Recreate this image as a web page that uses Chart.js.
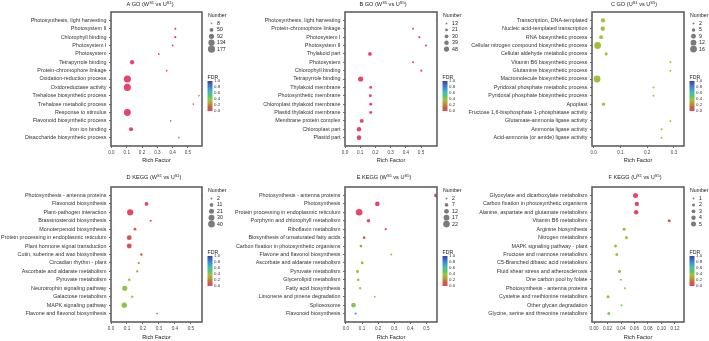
<!DOCTYPE html>
<html>
<head>
<meta charset="utf-8">
<script src="https://cdn.jsdelivr.net/npm/chart.js@4.4.1/dist/chart.umd.min.js"></script>
<style>
  html, body { margin: 0; padding: 0; background: #fff; }
  body { width: 709px; height: 341px; position: relative; overflow: hidden; }
  canvas { position: absolute; }
</style>
</head>
<body>
<script>
// ---- data ----
const aLabels = ['Photosynthesis, light harvesting', 'Photosystem II', 'Chlorophyll binding', 'Photosystem I',
  'Photosystem', 'Tetrapyrrole binding', 'Protein-chromophore linkage', 'Oxidation-reduction process',
  'Oxidoreductase activity', 'Trehalose biosynthetic process', 'Trehalose metabolic process',
  'Response to stimulus', 'Flavonoid biosynthetic process', 'Iron ion binding', 'Disaccharide biosynthetic process'];
const aRich = [0.60, 0.417, 0.417, 0.40, 0.309, 0.135, 0.361, 0.104, 0.104, 0.572, 0.535, 0.104, 0.387, 0.128, 0.441];
const aNumber = [20, 15, 15, 12, 12, 62, 10, 172, 168, 8, 8, 160, 8, 55, 8];
const aFdr = [0.02, 0, 0, 0, 0.01, 0, 0.02, 0, 0, 0.05, 0.05, 0, 0.12, 0.01, 0.1];
const aNumberKeys = [8, 50, 92, 134, 177];
const aTicks = [0, 0.1, 0.2, 0.3, 0.4, 0.5];

const bLabels = ['Photosynthesis, light harvesting', 'Protein-chromophore linkage', 'Photosystem I', 'Photosystem II',
  'Thylakoid part', 'Photosystem', 'Chlorophyll binding', 'Tetrapyrrole binding', 'Thylakoid membrane',
  'Photosynthetic membrane', 'Chloroplast thylakoid membrane', 'Plastid thylakoid membrane',
  'Membrane protein complex', 'Chloroplast part', 'Plastid part'];
const bRich = [0.607, 0.447, 0.489, 0.533, 0.164, 0.447, 0.502, 0.103, 0.169, 0.167, 0.169, 0.169, 0.11, 0.092, 0.092];
const bNumber = [14, 14, 15, 16, 30, 15, 15, 48, 22, 22, 22, 22, 32, 40, 40];
const bFdr = [0, 0, 0, 0, 0.01, 0, 0, 0.02, 0.01, 0.01, 0.01, 0.01, 0.01, 0.01, 0.01];
const bNumberKeys = [13, 21, 30, 39, 48];
const bTicks = [0, 0.1, 0.2, 0.3, 0.4, 0.5];

const cLabels = ['Transcription, DNA-templated', 'Nucleic acid-templated transcription', 'RNA biosynthetic process',
  'Cellular nitrogen compound biosynthetic process', 'Cellular aldehyde metabolic process',
  'Vitamin B6 biosynthetic process', 'Glutamine biosynthetic process', 'Macromolecule biosynthetic process',
  'Pyridoxal phosphate metabolic process', 'Pyridoxal phosphate biosynthetic process', 'Apoplast',
  'Fructose 1,6-bisphosphate 1-phosphatase activity', 'Glutamate-ammonia ligase activity',
  'Ammonia ligase activity', 'Acid-ammonia (or amide) ligase activity'];
const cRich = [0.035, 0.034, 0.028, 0.015, 0.047, 0.287, 0.287, 0.013, 0.224, 0.224, 0.037, 0.342, 0.287, 0.254, 0.254];
const cNumber = [7, 7, 6, 16, 4, 2, 2, 16, 2, 2, 4, 2, 2, 2, 2];
const cFdr = [0.36, 0.36, 0.36, 0.36, 0.36, 0.38, 0.38, 0.36, 0.38, 0.38, 0.36, 0.4, 0.38, 0.38, 0.38];
const cNumberKeys = [2, 5, 9, 12, 16];
const cTicks = [0, 0.1, 0.2, 0.3];

const dLabels = ['Photosynthesis - antenna proteins', 'Flavonoid biosynthesis', 'Plant-pathogen interaction',
  'Brassinosteroid biosynthesis', 'Monoterpenoid biosynthesis', 'Protein processing in endoplasmic reticulum',
  'Plant hormone signal transduction', 'Cutin, suberine and wax biosynthesis', 'Circadian rhythm - plant',
  'Ascorbate and aldarate metabolism', 'Pyruvate metabolism', 'Neurotrophin signaling pathway',
  'Galactose metabolism', 'MAPK signaling pathway', 'Flavone and flavonol biosynthesis'];
const dRich = [0.575, 0.222, 0.12, 0.248, 0.15, 0.114, 0.114, 0.19, 0.173, 0.164, 0.114, 0.086, 0.133, 0.083, 0.288];
const dNumber = [10, 11, 34, 3, 6, 20, 20, 4, 3, 3, 4, 22, 4, 24, 2];
const dFdr = [0, 0.02, 0.03, 0.12, 0.1, 0.06, 0.06, 0.1, 0.2, 0.25, 0.33, 0.4, 0.4, 0.42, 0.75];
const dNumberKeys = [2, 11, 21, 30, 40];
const dTicks = [0, 0.1, 0.2, 0.3, 0.4, 0.5];

const eLabels = ['Photosynthesis - antenna proteins', 'Photosynthesis', 'Protein processing in endoplasmic reticulum',
  'Porphyrin and chlorophyll metabolism', 'Riboflavin metabolism', 'Biosynthesis of unsaturated fatty acids',
  'Carbon fixation in photosynthetic organisms', 'Flavone and flavonol biosynthesis',
  'Ascorbate and aldarate metabolism', 'Pyruvate metabolism', 'Glycerolipid metabolism',
  'Fatty acid biosynthesis', 'Limonene and pinene degradation', 'Spliceosome', 'Flavonoid biosynthesis'];
const eRich = [0.56, 0.195, 0.082, 0.14, 0.247, 0.113, 0.093, 0.282, 0.101, 0.072, 0.076, 0.088, 0.179, 0.047, 0.06];
const eNumber = [8, 11, 22, 7, 3, 4, 4, 2, 4, 5, 4, 3, 2, 11, 3];
const eFdr = [0, 0, 0.01, 0.02, 0.05, 0.1, 0.25, 0.28, 0.3, 0.38, 0.38, 0.4, 0.42, 0.42, 0.7];
const eNumberKeys = [2, 7, 12, 17, 22];
const eTicks = [0, 0.1, 0.2, 0.3, 0.4, 0.5];

const fLabels = ['Glyoxylate and dicarboxylate metabolism', 'Carbon fixation in photosynthetic organisms',
  'Alanine, aspartate and glutamate metabolism', 'Vitamin B6 metabolism', 'Arginine biosynthesis',
  'Nitrogen metabolism', 'MAPK signaling pathway - plant', 'Fructose and mannose metabolism',
  'C5-Branched dibasic acid metabolism', 'Fluid shear stress and atherosclerosis', 'One carbon pool by folate',
  'Photosynthesis - antenna proteins', 'Cysteine and methionine metabolism', 'Other glycan degradation',
  'Glycine, serine and threonine metabolism'];
const fRich = [0.0615, 0.0635, 0.0625, 0.1115, 0.0446, 0.048, 0.0318, 0.0338, 0.135, 0.0378, 0.0397, 0.0457, 0.0208, 0.0407, 0.0219];
const fNumber = [5, 4, 4, 2, 2, 2, 2, 2, 1, 2, 1, 1, 2, 1, 2];
const fFdr = [0, 0, 0.01, 0.08, 0.33, 0.38, 0.36, 0.38, 0.4, 0.4, 0.42, 0.4, 0.42, 0.42, 0.42];
const fNumberKeys = [1, 2, 3, 4, 5];
const fTicks = [0, 0.02, 0.04, 0.06, 0.08, 0.10, 0.12];

const fdrKeys = [1.0, 0.8, 0.6, 0.4, 0.2, 0.0];

// ---- layout ----
const FONT = "'Liberation Sans', Arial, sans-serif";
const FDR_STOPS = [
  [0.00, [232, 67, 107]], [0.12, [200, 96, 63]], [0.25, [181, 154, 58]], [0.38, [156, 198, 62]],
  [0.50, [92, 196, 106]], [0.62, [63, 191, 181]], [0.80, [61, 134, 212]], [1.00, [64, 63, 158]],
];

function fdrColor(v) {
  for (let i = 1; i < FDR_STOPS.length; i++) {
    const [p1, c1] = FDR_STOPS[i];
    const [p0, c0] = FDR_STOPS[i - 1];
    if (v <= p1) {
      const t = (v - p0) / (p1 - p0);
      const c = c0.map((x, k) => Math.round(x + (c1[k] - x) * t));
      return `rgb(${c.join(',')})`;
    }
  }
  return 'rgb(64,63,158)';
}

function radius(n, keys, rr) {
  const lo = Math.sqrt(keys[0]), hi = Math.sqrt(keys[keys.length - 1]);
  const t = Math.max(0, (Math.sqrt(n) - lo) / (hi - lo));
  return rr[0] + (rr[1] - rr[0]) * t;
}

const panels = [
  { title: [['A GO (W'], ['S1', 1], [' vs U'], ['S1', 1], [')']], labels: aLabels, rich: aRich, number: aNumber, fdr: aFdr,
    keys: aNumberKeys, ticks: aTicks, dec: 1, xMin: -0.003, xMax: 0.592, rr: [0.8, 3.6],
    box: { x: 0, y: 0, w: 232, h: 170 }, frame: { l: 111, r: 202, t: 12, b: 146 }, titleX: 150, titleY: 4 },
  { title: [['B GO (W'], ['S5', 1], [' vs U'], ['S5', 1], [')']], labels: bLabels, rich: bRich, number: bNumber, fdr: bFdr,
    keys: bNumberKeys, ticks: bTicks, dec: 1, xMin: 0, xMax: 0.605, rr: [0.9, 2.6],
    box: { x: 232, y: 0, w: 234, h: 170 }, frame: { l: 345, r: 437, t: 12, b: 146 }, titleX: 383, titleY: 4 },
  { title: [['C GO (U'], ['S1', 1], [' vs U'], ['S5', 1], [')']], labels: cLabels, rich: cRich, number: cNumber, fdr: cFdr,
    keys: cNumberKeys, ticks: cTicks, dec: 1, xMin: -0.006, xMax: 0.338, rr: [1.0, 3.4],
    box: { x: 466, y: 0, w: 243, h: 170 }, frame: { l: 592, r: 684, t: 12, b: 146 }, titleX: 634, titleY: 4 },
  { title: [['D KEGG (W'], ['S1', 1], [' vs U'], ['S1', 1], [')']], labels: dLabels, rich: dRich, number: dNumber, fdr: dFdr,
    keys: dNumberKeys, ticks: dTicks, dec: 1, xMin: 0, xMax: 0.569, rr: [0.9, 3.4],
    box: { x: 0, y: 170, w: 232, h: 171 }, frame: { l: 111, r: 202, t: 187, b: 322 }, titleX: 154, titleY: 177 },
  { title: [['E KEGG (W'], ['S5', 1], [' vs U'], ['S5', 1], [')']], labels: eLabels, rich: eRich, number: eNumber, fdr: eFdr,
    keys: eNumberKeys, ticks: eTicks, dec: 1, xMin: -0.006, xMax: 0.566, rr: [0.9, 3.3],
    box: { x: 232, y: 170, w: 234, h: 171 }, frame: { l: 345, r: 437, t: 187, b: 322 }, titleX: 384, titleY: 177 },
  { title: [['F KEGG (U'], ['S1', 1], [' vs U'], ['S5', 1], [')']], labels: fLabels, rich: fRich, number: fNumber, fdr: fFdr,
    keys: fNumberKeys, ticks: fTicks, dec: 2, xMin: -0.003, xMax: 0.1334, rr: [1.0, 2.5],
    box: { x: 466, y: 170, w: 243, h: 171 }, frame: { l: 592, r: 684, t: 187, b: 322 }, titleX: 635, titleY: 177 },
];

// frame, title and the two legends
const panelDeco = {
  id: 'panelDeco',
  afterDatasetsDraw(chart, args, o) {
    const { ctx, chartArea: a } = chart;
    ctx.save();
    ctx.strokeStyle = '#606060';
    ctx.lineWidth = 1.6;
    ctx.strokeRect(a.left, a.top, a.right - a.left, a.bottom - a.top);
    ctx.restore();
  },
  afterDraw(chart, args, o) {
    const { ctx, chartArea: a } = chart;
    const p = o.panel;
    ctx.save();
    ctx.textBaseline = 'middle';
    ctx.fillStyle = '#222';

    // title with superscripts
    const big = `5.6px ${FONT}`, small = `4px ${FONT}`;
    let total = 0;
    p.title.forEach(([s, sup]) => { ctx.font = sup ? small : big; total += ctx.measureText(s).width; });
    let x = p.titleX - p.box.x - total / 2;
    const ty = p.titleY - p.box.y;
    ctx.textAlign = 'left';
    p.title.forEach(([s, sup]) => {
      ctx.font = sup ? small : big;
      ctx.fillText(s, x, sup ? ty - 1.6 : ty);
      x += ctx.measureText(s).width;
    });

    // size legend
    ctx.font = `5.2px ${FONT}`;
    ctx.fillText('Number', a.right + 6, a.top + 4);
    p.keys.forEach((k, i) => {
      const y = a.top + 11.5 + i * 6.4;
      ctx.beginPath();
      ctx.arc(a.right + 9.5, y, radius(k, p.keys, p.rr), 0, Math.PI * 2);
      ctx.fillStyle = '#7b7b7b';
      ctx.fill();
      ctx.fillStyle = '#222';
      ctx.fillText(String(k), a.right + 15, y);
    });

    // FDR colour bar
    ctx.fillText('FDR', a.right + 5.5, a.top + 66);
    const y0 = a.top + 69, y1 = a.top + 99, bx = a.right + 5.5;
    const g = ctx.createLinearGradient(0, y1, 0, y0);
    FDR_STOPS.forEach(([s, c]) => g.addColorStop(s, `rgb(${c.join(',')})`));
    ctx.fillStyle = g;
    ctx.fillRect(bx, y0, 5, y1 - y0);
    ctx.font = `4.4px ${FONT}`;
    ctx.fillStyle = '#333';
    fdrKeys.forEach(v => {
      const y = y1 - v * (y1 - y0);
      ctx.fillText(v.toFixed(1), bx + 6.5, y);
    });
    ctx.restore();
  },
};

panels.forEach(p => {
  const cv = document.createElement('canvas');
  cv.width = p.box.w;
  cv.height = p.box.h;
  cv.style.left = p.box.x + 'px';
  cv.style.top = p.box.y + 'px';
  cv.style.width = p.box.w + 'px';
  cv.style.height = p.box.h + 'px';
  document.body.appendChild(cv);

  const f = p.frame;
  const xh = p.box.h - (f.b - p.box.y) - (p.box.y === 0 ? 6 : 0);

  new Chart(cv.getContext('2d'), {
    type: 'bubble',
    data: {
      datasets: [{
        data: p.labels.map((_, i) => ({ x: p.rich[i], y: i, r: radius(p.number[i], p.keys, p.rr) })),
        backgroundColor: p.fdr.map(fdrColor),
        borderWidth: 0,
        hoverRadius: 0,
        clip: 0,
      }],
    },
    plugins: [panelDeco],
    options: {
      responsive: false,
      animation: false,
      events: [],
      layout: {
        padding: { left: 0, top: f.t - p.box.y, right: p.box.x + p.box.w - f.r, bottom: p.box.y + p.box.h - f.b - xh },
      },
      plugins: {
        legend: { display: false },
        tooltip: { enabled: false },
        panelDeco: { panel: p },
      },
      scales: {
        x: {
          type: 'linear',
          min: p.xMin,
          max: p.xMax,
          afterFit: s => { s.height = xh; },
          afterBuildTicks: s => { s.ticks = p.ticks.map(v => ({ value: v })); },
          ticks: {
            autoSkip: false, maxRotation: 0, padding: 1.5, color: '#444',
            font: { size: 4.6, family: FONT },
            callback: v => Number(v).toFixed(p.dec),
          },
          grid: { drawOnChartArea: false, tickLength: 2, tickWidth: 0.8, color: '#444' },
          border: { display: false },
          title: { display: true, text: 'Rich Factor', color: '#222', padding: 0, font: { size: 5.6, family: FONT } },
        },
        y: {
          type: 'linear',
          reverse: true,
          min: -1,
          max: p.labels.length,
          afterFit: s => { s.width = f.l - p.box.x; },
          afterBuildTicks: s => { s.ticks = p.labels.map((_, i) => ({ value: i })); },
          ticks: {
            autoSkip: false, padding: 2.5, color: '#333',
            font: { size: 5.4, family: FONT },
            callback: v => p.labels[v],
          },
          grid: { drawOnChartArea: false, tickLength: 2, tickWidth: 0.8, color: '#444' },
          border: { display: false },
        },
      },
    },
  });
});
</script>
</body>
</html>
